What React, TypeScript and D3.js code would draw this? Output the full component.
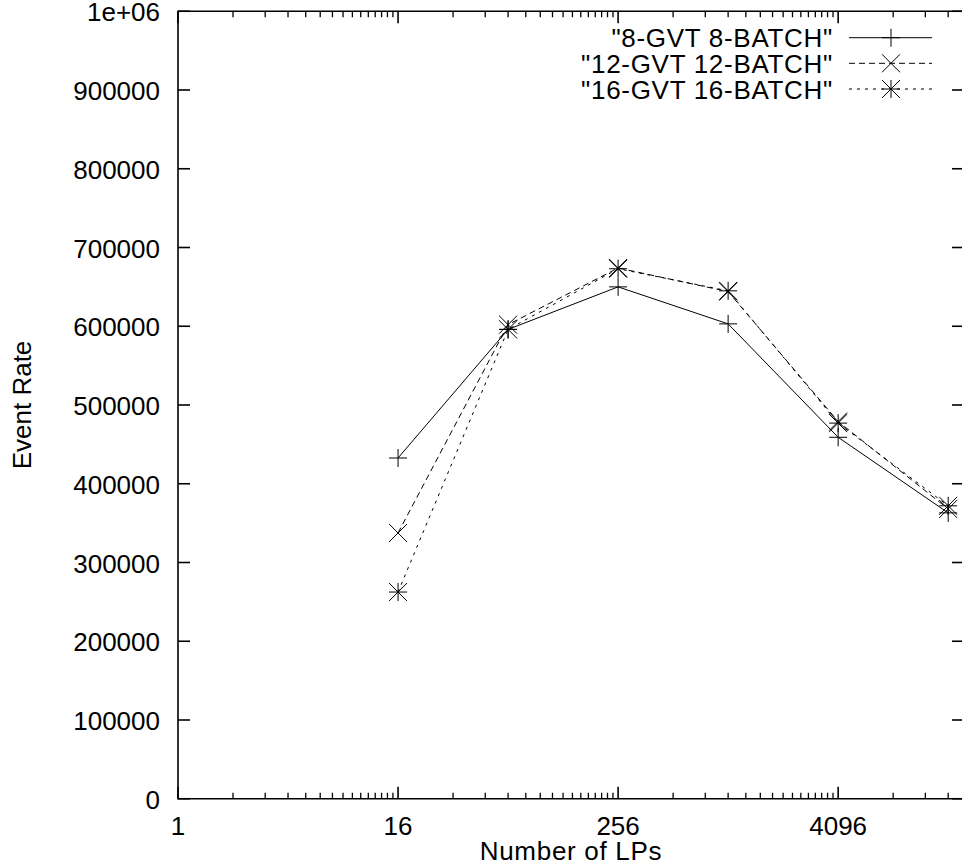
import React from "react";
import * as d3 from "d3";

const xValues = [16, 64, 256, 1024, 4096, 16384];
const series8 = [432700, 596000, 650000, 603000, 459000, 363000];
const series12 = [337500, 602000, 674000, 644000, 479000, 368000];
const series16 = [262500, 596000, 673000, 645000, 477000, 372000];
const seriesNames = ['"8-GVT 8-BATCH"', '"12-GVT 12-BATCH"', '"16-GVT 16-BATCH"'];
const xTickLabels = [1, 16, 256, 4096];
const yTickValues = [0, 100000, 200000, 300000, 400000, 500000, 600000, 700000, 800000, 900000, 1000000];

const W = 962;
const H = 867;
const left = 178;
const right = 964;
const top = 11.25;
const bottom = 798.75;
const FONT = "Liberation Sans, Arial, Helvetica, sans-serif";
const FS = 26;

function marker(type: string, x: number, y: number, key: string) {
  const s = 9;
  const plus = <path key={key + "p"} d={`M${x - s},${y}H${x + s}M${x},${y - s}V${y + s}`} />;
  const cross = <path key={key + "x"} d={`M${x - s},${y - s}L${x + s},${y + s}M${x - s},${y + s}L${x + s},${y - s}`} />;
  if (type === "plus") return <g key={key}>{plus}</g>;
  if (type === "cross") return <g key={key}>{cross}</g>;
  return <g key={key}>{plus}{cross}</g>;
}

export default function App() {
  const x = d3.scaleLog().base(2).domain([1, 20000]).range([left, right]);
  const y = d3.scaleLinear().domain([0, 1000000]).range([bottom, top]);

  const fmtY = (v: number) => (v === 1000000 ? "1e+06" : String(v));

  const line = d3
    .line<[number, number]>()
    .x((d) => x(d[0]))
    .y((d) => y(d[1]));

  const all = [
    { vals: series8, dash: "none", m: "plus" },
    { vals: series12, dash: "6,4", m: "cross" },
    { vals: series16, dash: "3,5", m: "star" },
  ];

  const minor: number[] = [];
  for (let p = 1; p < 20000; p *= 16) {
    for (let k = 2; k < 16; k++) {
      const v = p * k;
      if (v < 20000) minor.push(v);
    }
  }

  const legendRows = [37.7, 63.3, 89];

  return (
    <svg width={W} height={H} style={{ position: "absolute", left: 0, top: 0, background: "#fff" }}>
      <rect x={0} y={0} width={W} height={H} fill="#fff" />
      <g stroke="#000" strokeWidth={1.6} fill="none">
        <path d={`M${left},${top}V${bottom}H${right}V${top}Z`} />
      </g>
      <g stroke="#000" strokeWidth={1.6}>
        {yTickValues.map((v) => (
          <g key={"yt" + v}>
            <line x1={left} x2={left + 12} y1={y(v)} y2={y(v)} />
            <line x1={right} x2={right - 12} y1={y(v)} y2={y(v)} />
          </g>
        ))}
        {xTickLabels.map((v) => (
          <g key={"xt" + v}>
            <line x1={x(v)} x2={x(v)} y1={bottom} y2={bottom - 12} />
            <line x1={x(v)} x2={x(v)} y1={top} y2={top + 12} />
          </g>
        ))}
      </g>
      <g stroke="#000" strokeWidth={1.3}>
        {minor.map((v) => (
          <g key={"mt" + v}>
            <line x1={x(v)} x2={x(v)} y1={bottom} y2={bottom - 6} />
            <line x1={x(v)} x2={x(v)} y1={top} y2={top + 6} />
          </g>
        ))}
      </g>
      <g fontFamily={FONT} fontSize={FS} fill="#000">
        {yTickValues.map((v) => (
          <text key={"yl" + v} x={160} y={y(v) + 10} textAnchor="end">
            {fmtY(v)}
          </text>
        ))}
        {xTickLabels.map((v) => (
          <text key={"xl" + v} x={x(v)} y={835} textAnchor="middle">
            {v}
          </text>
        ))}
        <text x={571} y={860} textAnchor="middle" letterSpacing={0.7}>
          Number of LPs
        </text>
        <text transform={`translate(31,405) rotate(-90)`} textAnchor="middle">
          Event Rate
        </text>
      </g>
      {all.map((s, i) => {
        const pts = xValues.map((xv, j) => [xv, s.vals[j]] as [number, number]);
        return (
          <g key={"s" + i} stroke="#000" strokeWidth={1} fill="none">
            <path d={line(pts) || ""} strokeDasharray={s.dash} />
            {pts.map((p, j) => marker(s.m, x(p[0]), y(p[1]), `m${i}-${j}`))}
          </g>
        );
      })}
      <g fontFamily={FONT} fontSize={FS} fill="#000">
        {seriesNames.map((n, i) => (
          <text key={"ln" + i} x={833} y={legendRows[i] + 9.5} textAnchor="end" letterSpacing={0.7}>
            {n}
          </text>
        ))}
      </g>
      {all.map((s, i) => (
        <g key={"lg" + i} stroke="#000" strokeWidth={1} fill="none">
          <line x1={849} x2={932} y1={legendRows[i]} y2={legendRows[i]} strokeDasharray={s.dash} />
          {marker(s.m, 891, legendRows[i], "lgm" + i)}
        </g>
      ))}
    </svg>
  );
}
